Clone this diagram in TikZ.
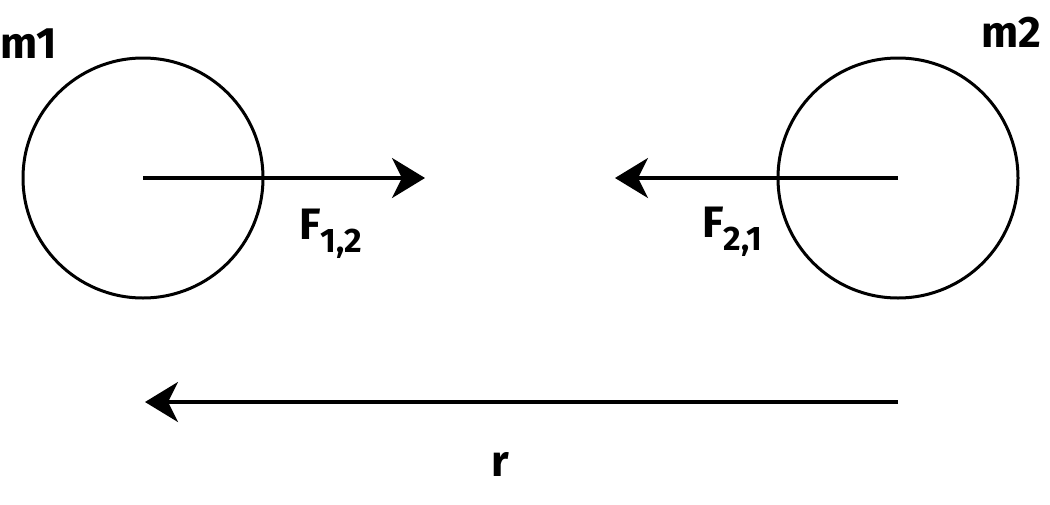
\documentclass[tikz,border=0pt]{standalone}
\usepackage{fontspec}
\setmainfont{Fira Sans}
\usetikzlibrary{arrows.meta}
\newcommand{\mysub}[1]{\raisebox{-0.3em}{\fontsize{34}{36}\selectfont #1}}
\begin{document}
\begin{tikzpicture}[x=1pt,y=-1pt,
  body/.style={draw,line width=3pt,circle,minimum size=240pt,inner sep=0pt},
  force/.style={line width=3.8pt,-{Stealth[length=33pt,width=40pt,inset=10pt]}},
  lbl/.style={font=\fontsize{44}{48}\selectfont\bfseries,inner sep=0pt}]
\useasboundingbox (0,0) rectangle (1050,504);
\node[body] (c1) at (143,178) {};
\node[body] (c2) at (898,178) {};
\coordinate (t1) at (425,178);
\coordinate (t2) at (615,178);
\coordinate (rs) at (898,402);
\coordinate (re) at (145,402);
\draw[force] (c1.center) -- (t1);
\draw[force] (c2.center) -- (t2);
\draw[force] (rs) -- (re);
\node[lbl] (m1) at (29,44) {m1};
\node[lbl] (m2) at (1011,32) {m2};
\node[lbl] (f12) at (331,234) {F\mysub{1,2}};
\node[lbl] (f21) at (732,232) {F\mysub{2,1}};
\node[lbl] (r) at (500,464) {r};
\end{tikzpicture}
\end{document}
